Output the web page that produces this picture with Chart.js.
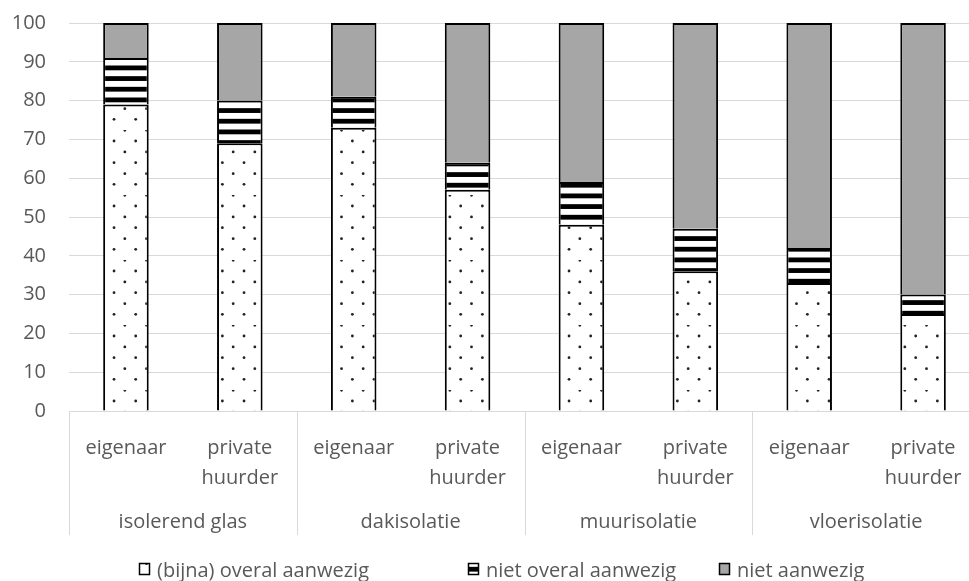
<!DOCTYPE html>
<html>
<head>
<meta charset="utf-8">
<script src="https://cdn.jsdelivr.net/npm/chart.js@4/dist/chart.umd.min.js"></script>
<style>
  html, body { margin: 0; padding: 0; background: #fff; overflow: hidden; }
  #wrap { width: 985px; height: 581px; }
</style>
</head>
<body>
<div id="wrap"><canvas id="c" width="985" height="581"></canvas></div>
<script>
// Isolatiemaatregelen per woningtype: aandeel woningen (%)
const maatregelen = ['isolerend glas', 'dakisolatie', 'muurisolatie', 'vloerisolatie'];
const eigendom = [['eigenaar'], ['private', 'huurder']];

const overalAanwezig = [79, 69, 73, 57, 48, 36, 33, 25];
const nietOveralAanwezig = [12, 11, 8, 7, 11, 11, 9, 5];
const nietAanwezig = [9, 20, 19, 36, 41, 53, 58, 70];

const reeksNamen = ['(bijna) overal aanwezig', 'niet overal aanwezig', 'niet aanwezig'];

const categorieen = [];
maatregelen.forEach(() => eigendom.forEach(e => categorieen.push(e)));

const FONT = '"Open Sans", "Noto Sans", sans-serif';
const TEXT = '#595959';
const LINE = '#D9D9D9';

// fine dot fill
function dotPattern(ctx) {
  const size = 65, cell = size / 3;
  const c = document.createElement('canvas');
  c.width = size; c.height = size;
  const g = c.getContext('2d');
  g.fillStyle = '#fff';
  g.fillRect(0, 0, size, size);
  g.fillStyle = '#222';
  for (let i = 0; i < 3; i++) {
    for (let j = 0; j < 3; j++) {
      const ox = i * cell, oy = j * cell;
      [[5.7, 11], [16.5, 0.3]].forEach(([dx, dy]) => {
        g.beginPath();
        g.arc(ox + dx, oy + dy, 1.4, 0, Math.PI * 2);
        g.fill();
      });
    }
  }
  return ctx.createPattern(c, 'repeat');
}

// horizontal black/white bands
function stripePattern(ctx) {
  const h = 32, period = h / 3;
  const c = document.createElement('canvas');
  c.width = 8; c.height = h;
  const g = c.getContext('2d');
  g.fillStyle = '#fff';
  g.fillRect(0, 0, 8, h);
  g.fillStyle = '#000';
  for (let k = 0; k < 3; k++) g.fillRect(0, 1.5 + k * period, 8, 4.8);
  return ctx.createPattern(c, 'repeat');
}

const groepLabels = {
  id: 'groepLabels',
  afterDraw(chart) {
    const { ctx } = chart;
    const xs = chart.scales.x;
    const n = maatregelen.length;
    const w = (xs.right - xs.left) / n;
    ctx.save();
    ctx.strokeStyle = LINE;
    ctx.lineWidth = 1;
    for (let k = 0; k <= n; k++) {
      const x = Math.round(xs.left + k * w) + 0.5;
      ctx.beginPath();
      ctx.moveTo(x, xs.top);
      ctx.lineTo(x, xs.top + 124);
      ctx.stroke();
    }
    ctx.fillStyle = TEXT;
    ctx.font = '20px ' + FONT;
    ctx.textAlign = 'center';
    ctx.textBaseline = 'alphabetic';
    maatregelen.forEach((m, k) => {
      ctx.fillText(m, xs.left + (k + 0.5) * w, xs.top + 117);
    });
    ctx.restore();
  }
};

const legendaOnder = {
  id: 'legendaOnder',
  afterDraw(chart, args, opts) {
    const { ctx } = chart;
    ctx.save();
    ctx.font = '20px ' + FONT;
    ctx.textAlign = 'left';
    ctx.textBaseline = 'alphabetic';
    chart.data.datasets.forEach((ds, i) => {
      const x = opts.x[i];
      const y = opts.y;
      ctx.fillStyle = ds.backgroundColor;
      ctx.fillRect(x, y, 10, 11);
      ctx.strokeStyle = '#000';
      ctx.lineWidth = 1.5;
      ctx.strokeRect(x + 0.5, y + 0.5, 10, 11);
      ctx.fillStyle = TEXT;
      ctx.fillText(ds.label, x + 18, y + 14);
    });
    ctx.restore();
  }
};

function maakGrafiek() {
  const ctx = document.getElementById('c').getContext('2d');
  const reeksen = [overalAanwezig, nietOveralAanwezig, nietAanwezig];
  const vulling = [dotPattern(ctx), stripePattern(ctx), '#A6A6A6'];

  new Chart(ctx, {
    type: 'bar',
    data: {
      labels: categorieen,
      datasets: reeksen.map((d, i) => ({
        label: reeksNamen[i],
        data: d,
        backgroundColor: vulling[i],
        borderColor: '#000',
        borderWidth: 2,
        barPercentage: 0.4,
        categoryPercentage: 1
      }))
    },
    options: {
      responsive: false,
      animation: false,
      devicePixelRatio: 1,
      layout: { padding: { left: 0, right: 5, top: 23, bottom: 0 } },
      plugins: {
        legend: { display: false },
        tooltip: { enabled: false },
        legendaOnder: { x: [139, 468, 719], y: 563 }
      },
      scales: {
        x: {
          stacked: true,
          grid: { display: false },
          border: { display: true, color: LINE, width: 1 },
          ticks: {
            color: TEXT,
            font: { family: FONT, size: 20, lineHeight: 1.5 },
            padding: 14,
            maxRotation: 0,
            autoSkip: false
          },
          afterFit(s) {
            s.height = 170;
            s.paddingLeft = 0;
            s.paddingRight = 0;
          }
        },
        y: {
          stacked: true,
          min: 0,
          max: 100,
          grid: { color: LINE, lineWidth: 1, drawTicks: false },
          border: { display: false },
          ticks: {
            stepSize: 10,
            color: TEXT,
            font: { family: FONT, size: 20 },
            padding: 23
          },
          afterFit(s) {
            s.width = 69;
            s.paddingTop = 0;
            s.paddingBottom = 0;
          }
        }
      }
    },
    plugins: [groepLabels, legendaOnder]
  });
}

if (document.fonts && document.fonts.load) {
  document.fonts.load('20px "Open Sans"').then(maakGrafiek, maakGrafiek);
} else {
  maakGrafiek();
}
</script>
</body>
</html>
